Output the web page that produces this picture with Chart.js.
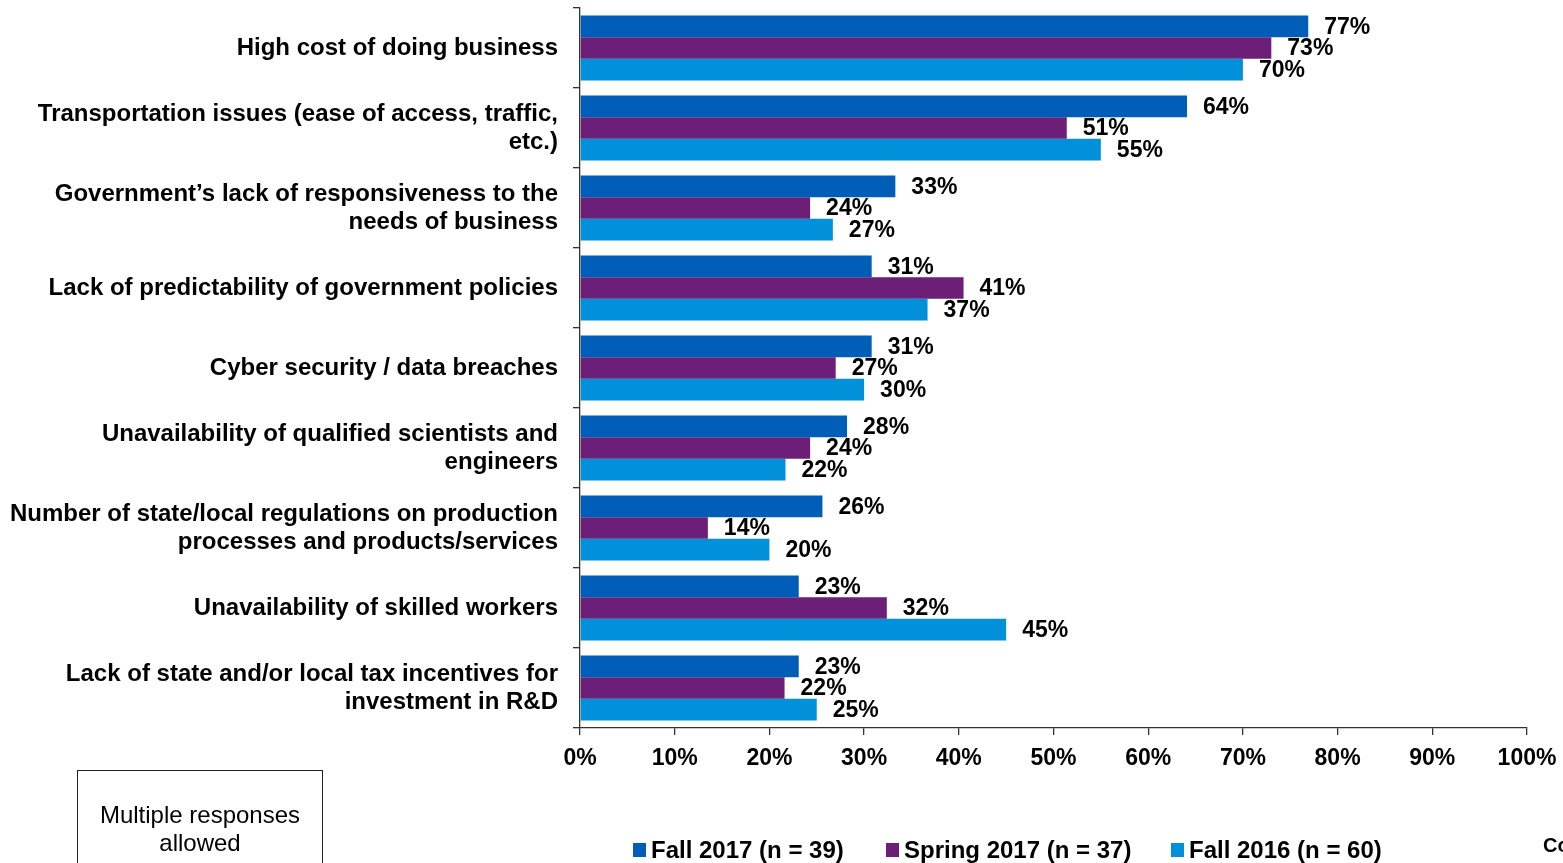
<!DOCTYPE html>
<html>
<head>
<meta charset="utf-8">
<script src="https://cdn.jsdelivr.net/npm/chart.js@4"></script>
<style>
html,body{margin:0;padding:0;background:#fff;overflow:hidden;}
#wrap{position:relative;width:1563px;height:863px;}
#note{position:absolute;left:77px;top:770px;width:246px;height:120px;border:1px solid #222;box-sizing:border-box;
 font-family:"Liberation Sans",Arial,sans-serif;font-size:24px;line-height:28px;text-align:center;padding-top:30px;color:#000;}
</style>
</head>
<body>
<div id="wrap">
<canvas id="c" width="1563" height="863"></canvas>
<div id="note">Multiple responses<br>allowed</div>
</div>
<script>
const categories = [
  ["High cost of doing business"],
  ["Transportation issues (ease of access, traffic,", "etc.)"],
  ["Government\u2019s lack of responsiveness to the", "needs of business"],
  ["Lack of predictability of government policies"],
  ["Cyber security / data breaches"],
  ["Unavailability of qualified scientists and", "engineers"],
  ["Number of state/local regulations on production", "processes and products/services"],
  ["Unavailability of skilled workers"],
  ["Lack of state and/or local tax incentives for", "investment in R&D"]
];
const seriesNames = ["Fall 2017 (n = 39)", "Spring 2017 (n = 37)", "Fall 2016 (n = 60)"];
const fall2017 = [76.9, 64.1, 33.3, 30.8, 30.8, 28.2, 25.6, 23.1, 23.1];
const spring2017 = [73.0, 51.4, 24.3, 40.5, 27.0, 24.3, 13.5, 32.4, 21.6];
const fall2016 = [70.0, 55.0, 26.7, 36.7, 30.0, 21.7, 20.0, 45.0, 25.0];
const xTicks = [0, 10, 20, 30, 40, 50, 60, 70, 80, 90, 100];
const colors = ["#005EB8", "#6D1F77", "#0091DA"];

const FONT = '"Liberation Sans", Arial, sans-serif';

const labelPlugin = {
  id: 'valueLabels',
  afterDatasetsDraw(chart) {
    const ctx = chart.ctx;
    ctx.save();
    ctx.font = 'bold 23px ' + FONT;
    ctx.fillStyle = '#000';
    ctx.textAlign = 'left';
    ctx.textBaseline = 'middle';
    chart.data.datasets.forEach((ds, di) => {
      const meta = chart.getDatasetMeta(di);
      meta.data.forEach((bar, i) => {
        ctx.fillText(Math.round(ds.data[i]) + '%', bar.x + 16, bar.y + 1);
      });
    });
    ctx.restore();
  }
};

const legendPlugin = {
  id: 'customLegend',
  afterDraw(chart) {
    const ctx = chart.ctx;
    ctx.save();
    ctx.font = 'bold 24px ' + FONT;
    ctx.textBaseline = 'middle';
    ctx.textAlign = 'left';
    const boxX = [633, 886, 1171];
    const y = 850;
    chart.data.datasets.forEach((ds, di) => {
      ctx.fillStyle = ds.backgroundColor;
      ctx.fillRect(boxX[di], y - 7, 13, 14);
      ctx.fillStyle = '#000';
      ctx.fillText(ds.label, boxX[di] + 18, y + 1);
    });
    ctx.font = 'bold 20px ' + FONT;
    ctx.fillText('Co', 1543, 846);
    ctx.restore();
  }
};

new Chart(document.getElementById('c'), {
  type: 'bar',
  data: {
    labels: categories,
    datasets: [
      { label: seriesNames[0], data: fall2017, backgroundColor: colors[0] },
      { label: seriesNames[1], data: spring2017, backgroundColor: colors[1] },
      { label: seriesNames[2], data: fall2016, backgroundColor: colors[2] }
    ]
  },
  options: {
    indexAxis: 'y',
    responsive: false,
    animation: false,
    events: [],
    layout: { padding: { left: 0, right: 36, top: 8, bottom: 0 } },
    categoryPercentage: 0.8125,
    barPercentage: 1,
    plugins: { legend: { display: false }, tooltip: { enabled: false } },
    scales: {
      x: {
        min: 0, max: 100,
        afterFit(s) { s.height = 135; s.paddingLeft = 0; s.paddingRight = 0; },
        afterBuildTicks(s) { s.ticks = xTicks.map(v => ({ value: v })); },
        ticks: {
          callback: v => v + '%',
          font: { family: FONT, size: 23, weight: 'bold' },
          color: '#000',
          padding: 10,
          maxRotation: 0,
          autoSkip: false
        },
        grid: { drawOnChartArea: false, tickLength: 7, color: '#333', lineWidth: 1.3 },
        border: { color: '#333', width: 1.3 }
      },
      y: {
        afterFit(s) { s.width = 580; s.paddingTop = 0; s.paddingBottom = 0; },
        ticks: {
          font: { family: FONT, size: 24, weight: 'bold', lineHeight: 1.167 },
          color: '#000',
          padding: 15,
          autoSkip: false
        },
        grid: { drawOnChartArea: false, tickLength: 7, color: '#333', lineWidth: 1.3, offset: true },
        border: { color: '#333', width: 1.3 }
      }
    }
  },
  plugins: [labelPlugin, legendPlugin]
});
</script>
</body>
</html>
